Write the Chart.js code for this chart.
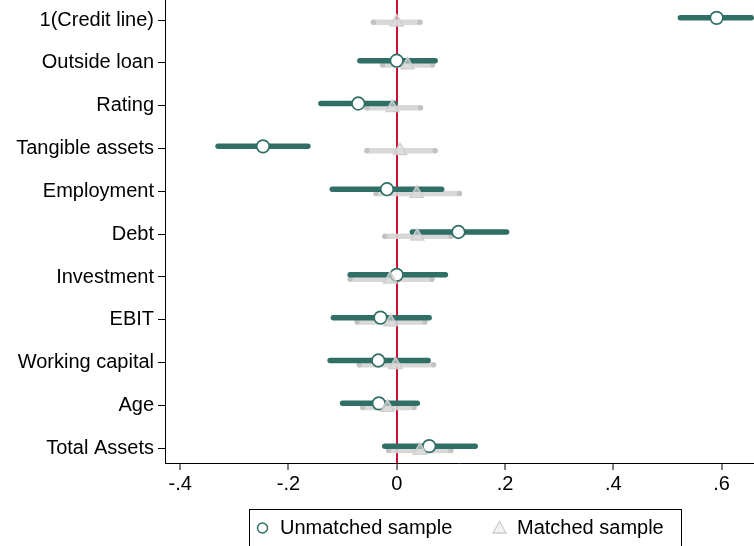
<!DOCTYPE html>
<html>
<head>
<meta charset="utf-8">
<script src="https://cdn.jsdelivr.net/npm/chart.js@4"></script>
<style>
html,body{margin:0;padding:0;background:#fff;}
#wrap{width:754px;height:546px;position:relative;}
</style>
</head>
<body>
<div id="wrap"><canvas id="c" width="754" height="546"></canvas></div>
<script>
const categories = ['1(Credit line)','Outside loan','Rating','Tangible assets','Employment','Debt','Investment','EBIT','Working capital','Age','Total Assets'];
const unmatchedCoef = [0.591, 0.000, -0.071, -0.247, -0.018, 0.114, 0.000, -0.030, -0.034, -0.033, 0.060];
const unmatchedLo   = [0.524, -0.068, -0.140, -0.330, -0.119, 0.029, -0.086, -0.117, -0.123, -0.100, -0.022];
const unmatchedHi   = [0.655, 0.071, -0.003, -0.164, 0.083, 0.203, 0.090, 0.060, 0.058, 0.038, 0.145];
const matchedCoef   = [0.000, 0.020, -0.008, 0.006, 0.037, 0.038, -0.012, -0.011, -0.002, -0.017, 0.043];
const matchedLo     = [-0.043, -0.026, -0.055, -0.055, -0.038, -0.022, -0.086, -0.073, -0.069, -0.063, -0.015];
const matchedHi     = [0.043, 0.066, 0.044, 0.071, 0.116, 0.100, 0.065, 0.052, 0.068, 0.032, 0.100];
const xTicks = [-0.4, -0.2, 0, 0.2, 0.4, 0.6];
const seriesNames = ['Unmatched sample', 'Matched sample'];

const GREEN = '#2f6f65';
const GRAY = 'rgba(212,212,212,0.9)';
const RED = '#cc0f37';
const FONT = '"Liberation Sans", Arial, sans-serif';
const offU = -0.05, offM = 0.05;

const datasets = [];
categories.forEach((c, i) => {
  datasets.push({
    type: 'line', order: 4,
    data: [{x: unmatchedLo[i], y: i + 1 + offU}, {x: unmatchedHi[i], y: i + 1 + offU}],
    borderColor: GREEN, borderWidth: 5.5, borderCapStyle: 'round', pointRadius: 0
  });
  datasets.push({
    type: 'line', order: 5,
    data: [{x: matchedLo[i], y: i + 1 + offM}, {x: matchedHi[i], y: i + 1 + offM}],
    borderColor: GRAY, borderWidth: 5.5, borderCapStyle: 'round',
    pointRadius: 2.6, pointBackgroundColor: 'rgba(192,192,192,0.9)', pointBorderWidth: 0
  });
});
datasets.push({
  type: 'scatter', order: 3, label: seriesNames[0],
  data: unmatchedCoef.map((v, i) => ({x: v, y: i + 1 + offU})),
  pointStyle: 'circle', pointRadius: 6.3, backgroundColor: '#ffffff', borderColor: GREEN, borderWidth: 1.7
});
datasets.push({
  type: 'scatter', order: 1, label: seriesNames[1],
  data: matchedCoef.map((v, i) => ({x: v, y: i + 1 + offM})),
  pointStyle: 'triangle', pointRadius: 7.5, backgroundColor: 'rgba(222,222,222,0.6)', borderColor: 'rgba(205,205,205,0.95)', borderWidth: 1.5
});

const legendPlugin = {
  id: 'boxLegend',
  afterDraw(chart) {
    const ctx = chart.ctx;
    ctx.save();
    ctx.strokeStyle = '#000';
    ctx.lineWidth = 1;
    ctx.strokeRect(249.5, 509.5, 432, 50);
    ctx.beginPath();
    ctx.arc(262.5, 528, 5, 0, Math.PI * 2);
    ctx.fillStyle = '#fff'; ctx.fill();
    ctx.strokeStyle = GREEN; ctx.lineWidth = 1.5; ctx.stroke();
    ctx.beginPath();
    ctx.moveTo(499.5, 521.5); ctx.lineTo(506, 533); ctx.lineTo(493, 533); ctx.closePath();
    ctx.fillStyle = 'rgba(235,235,235,0.6)'; ctx.fill();
    ctx.strokeStyle = 'rgba(205,205,205,1)'; ctx.lineWidth = 1.3; ctx.stroke();
    ctx.fillStyle = '#000';
    ctx.font = '20px ' + FONT;
    ctx.textBaseline = 'middle';
    ctx.fillText(seriesNames[0], 280, 528);
    ctx.fillText(seriesNames[1], 517, 528);
    ctx.restore();
  }
};

new Chart(document.getElementById('c'), {
  data: {datasets},
  options: {
    responsive: false, animation: false,
    layout: {autoPadding: false, padding: {left: 0, right: 0, top: 0, bottom: 43}},
    plugins: {legend: {display: false}, tooltip: {enabled: false}},
    scales: {
      x: {
        type: 'linear', min: -0.428, max: 0.66,
        afterBuildTicks(s) { s.ticks = xTicks.map(v => ({value: v})); },
        afterFit(s) { s.height = 40; s.paddingLeft = 0; s.paddingRight = 0; },
        border: {display: true, color: '#000', width: 1},
        grid: {
          drawOnChartArea: true, drawTicks: true, tickLength: 7,
          color: c => (c.tick && c.tick.value === 0) ? RED : 'rgba(0,0,0,0)',
          lineWidth: c => (c.tick && c.tick.value === 0) ? 2 : 0,
          tickColor: '#000', tickWidth: 1
        },
        ticks: {
          color: '#000', font: {family: FONT, size: 20}, padding: 2, maxRotation: 0, autoSkip: false,
          callback: v => v === 0 ? '0' : String(v.toFixed(1)).replace('0.', '.')
        }
      },
      y: {
        type: 'linear', reverse: true, min: 0.533, max: 11.343,
        afterBuildTicks(s) { s.ticks = categories.map((c, i) => ({value: i + 1})); },
        afterFit(s) { s.width = 165; s.paddingTop = 0; s.paddingBottom = 0; },
        border: {display: true, color: '#000', width: 1},
        grid: {drawOnChartArea: false, drawTicks: true, tickLength: 7, tickColor: '#000', tickWidth: 1},
        ticks: {
          color: '#000', font: {family: FONT, size: 20}, padding: 4, autoSkip: false,
          callback: v => categories[Math.round(v) - 1] || ''
        }
      }
    }
  },
  plugins: [legendPlugin]
});
</script>
</body>
</html>
